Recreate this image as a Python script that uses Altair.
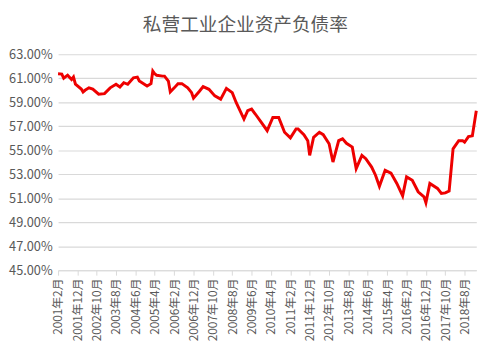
import altair as alt
import pandas as pd

# Monthly readings (date, debt-to-asset ratio in %)
dates = [
    "2001-02", "2001-04", "2001-05", "2001-07", "2001-09", "2001-10", "2001-11",
    "2002-02", "2002-03", "2002-04", "2002-06", "2002-08", "2002-11",
    "2003-02", "2003-05", "2003-08", "2003-10", "2003-12",
    "2004-02", "2004-05", "2004-07", "2004-08", "2004-12",
    "2005-02", "2005-03", "2005-04", "2005-05", "2005-08", "2005-09", "2005-11", "2005-12",
    "2006-02", "2006-04", "2006-06", "2006-09", "2006-11", "2006-12",
    "2007-03", "2007-05", "2007-08", "2007-11",
    "2008-02", "2008-05", "2008-08", "2008-10",
    "2009-02", "2009-04", "2009-06", "2009-08", "2009-11",
    "2010-02", "2010-05", "2010-08", "2010-11",
    "2011-02", "2011-05", "2011-06", "2011-09", "2011-11", "2011-12",
    "2012-02", "2012-05", "2012-07", "2012-10", "2012-12",
    "2013-03", "2013-05", "2013-07", "2013-10", "2013-12",
    "2014-03", "2014-05", "2014-08", "2014-10", "2014-12",
    "2015-03", "2015-06", "2015-09", "2015-12",
    "2016-02", "2016-05", "2016-08", "2016-11", "2016-12",
    "2017-02", "2017-06", "2017-08", "2017-10", "2017-12",
    "2018-02", "2018-05", "2018-07", "2018-08", "2018-10", "2018-12",
    "2019-02",
]
values = [
    61.37, 61.35, 61.00, 61.26, 60.90, 61.10, 60.50,
    60.10, 59.86, 60.00, 60.20, 60.10, 59.67,
    59.72, 60.20, 60.50, 60.27, 60.63,
    60.50, 61.04, 61.10, 60.77, 60.36,
    60.55, 61.60, 61.37, 61.25, 61.18, 61.18, 60.77, 59.86,
    60.20, 60.55, 60.55, 60.20, 59.80, 59.34,
    59.90, 60.30, 60.08, 59.53,
    59.26, 60.16, 59.80, 58.98,
    57.60, 58.30, 58.43, 58.00, 57.32,
    56.63, 57.73, 57.73, 56.50,
    56.03, 56.78, 56.78, 56.30, 55.80, 54.57,
    56.08, 56.50, 56.30, 55.54, 54.02,
    55.80, 55.95, 55.58, 55.26, 53.47,
    54.57, 54.30, 53.60, 52.92, 52.00,
    53.33, 53.10, 52.23, 51.20,
    52.78, 52.50, 51.54, 51.12, 50.63,
    52.23, 51.82, 51.40, 51.45, 51.60,
    55.12, 55.80, 55.80, 55.67, 56.14, 56.20,
    58.29,
]

# Tick labels every 10 months: (year, month)
tick_months = [
    (2001, 2), (2001, 12), (2002, 10), (2003, 8), (2004, 6), (2005, 4),
    (2006, 2), (2006, 12), (2007, 10), (2008, 8), (2009, 6), (2010, 4),
    (2011, 2), (2011, 12), (2012, 10), (2013, 8), (2014, 6), (2015, 4),
    (2016, 2), (2016, 12), (2017, 10), (2018, 8),
]
y_ticks = [45, 47, 49, 51, 53, 55, 57, 59, 61, 63]

df = pd.DataFrame({"date": [d + "-01" for d in dates], "ratio": values})

FONT = "Noto Sans CJK SC"
GRAY = "#595959"
GRID = "#d9d9d9"

x_axis = alt.Axis(
    values=[alt.DateTime(year=y, month=m, date=1, utc=True) for y, m in tick_months],
    labelExpr="utcFormat(datum.value, '%Y年%-m月')",
    labelAngle=270,
    labelFont=FONT,
    labelFontSize=12,
    labelColor=GRAY,
    labelPadding=3,
    labelOverlap=False,
    ticks=True,
    tickSize=5,
    tickColor=GRID,
    domainColor=GRID,
    grid=False,
    title=None,
)
y_axis = alt.Axis(
    values=y_ticks,
    labelExpr="format(datum.value, '.2f') + '%'",
    labelFont=FONT,
    labelFontSize=13,
    labelColor=GRAY,
    labelPadding=6,
    ticks=False,
    domain=False,
    grid=True,
    gridColor=GRID,
    gridWidth=1.2,
    title=None,
)

chart = (
    alt.Chart(df)
    .mark_line(color="#ee0000", strokeWidth=3)
    .encode(
        x=alt.X(
            "date:T",
            axis=x_axis,
            scale=alt.Scale(
                type="utc",
                domain=[
                    alt.DateTime(year=2001, month=2, date=1, utc=True),
                    alt.DateTime(year=2019, month=2, date=1, utc=True),
                ],
                nice=False,
            ),
        ),
        y=alt.Y(
            "ratio:Q",
            axis=y_axis,
            scale=alt.Scale(domain=[45, 63], nice=False, zero=False),
        ),
    )
    .properties(
        width=426,
        height=220,
        padding={"left": 0, "right": 10, "top": 5, "bottom": 0},
        title=alt.TitleParams(
            "私营工业企业资产负债率",
            font=FONT,
            fontSize=19,
            fontWeight="normal",
            color=GRAY,
            anchor="middle",
            frame="bounds",
            offset=14,
        ),
    )
    .configure_view(stroke=None)
)

chart.save("out.html", embed_options={"renderer": "svg", "actions": False})
